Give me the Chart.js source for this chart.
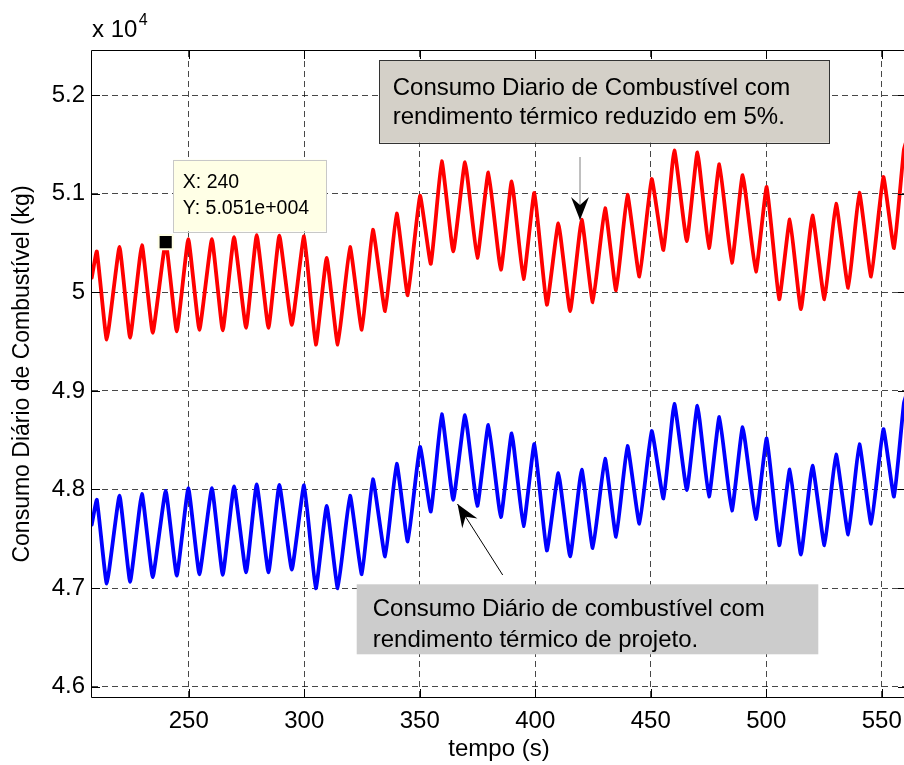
<!DOCTYPE html>
<html>
<head>
<meta charset="utf-8">
<script src="https://cdn.jsdelivr.net/npm/chart.js@4.4.0/dist/chart.umd.min.js"></script>
<style>
html,body{margin:0;padding:0;background:#fff;overflow:hidden;width:904px;height:765px}
#wrap{position:relative;width:910px;height:765px}
canvas{display:block}
</style>
</head>
<body>
<div id="wrap"><canvas id="c" width="910" height="765" style="width:910px;height:765px"></canvas></div>
<script>
// ---------- data ----------
const timeS = [
 208.0,210.2,214.5,220.0,224.6,229.7,234.4,240.0,244.8,249.8,254.6,260.0,264.7,269.6,274.8,279.4,284.5,289.2,294.6,299.9,
 305.0,309.7,314.5,319.8,324.9,329.7,335.0,340.0,344.8,350.1,354.8,359.5,364.5,369.6,374.9,379.7,385.1,389.8,394.9,399.6,
 405.0,410.0,415.1,420.1,424.9,430.2,435.0,439.9,445.1,450.4,455.5,460.2,465.6,470.2,475.2,479.7,485.1,489.8,495.5,500.2,
 505.6,510.2,515.0,520.0,525.2,530.2,535.5,540.3,545.4,550.7,555.3,559.6,561.5
];
// consumo diário (kg) - rendimento térmico reduzido em 5%
const consumoReduzido = [
 50150,50415,49520,50460,49540,50480,49590,50510,49605,50540,49620,50540,49615,50560,49640,50580,49640,50575,49670,50570,
 49470,50350,49470,50460,49620,50635,49810,50800,49970,50980,50290,51330,50415,51320,50350,51216,50230,51125,50136,51010,
 49875,50700,49810,50737,49900,50855,50020,50990,50160,51150,50430,51440,50520,51420,50450,51300,50300,51190,50210,51070,
 49930,50740,49830,50780,49930,50900,50045,51010,50160,51170,50450,51450,51600
];
// consumo diário (kg) - rendimento térmico de projeto
const consumoProjeto = [
 47643,47894,47044,47937,47063,47956,47111,47985,47125,48013,47139,48013,47134,48032,47158,48051,47158,48046,47187,48042,
 46997,47833,46997,47937,47139,48103,47320,48260,47472,48431,47776,48764,47894,48754,47833,48655,47719,48569,47629,48460,
 47381,48165,47320,48200,47405,48312,47519,48441,47652,48593,47909,48868,47994,48849,47928,48735,47785,48631,47700,48517,
 47434,48203,47339,48241,47434,48355,47543,48460,47652,48612,47928,48878,49020
];
const xTicks = [250,300,350,400,450,500,550];
const yTicks = [46000,47000,48000,49000,50000,51000,52000];
const xLimits = [208.1, 560.5];
const yLimits = [45894, 52449];
const dataTip = {x:240, y:50510};

// ---------- styling / layout ----------
const FONT = "'Liberation Sans', Arial, Helvetica, sans-serif";
const ANN = {
  red:  {box:[379.3,60,450,82.7], fill:'#d4d0c8', stroke:'#333333', textX:392.7, base:[95,124],
         lines:['Consumo Diario de Combustível com','rendimento térmico reduzido em 5%.'],
         arrow:{from:[580,157], to:[580,220], color:'#808080'}},
  blue: {box:[356.7,584.3,461.6,70], fill:'#cccccc', stroke:null, textX:372.7, base:[616,646.5],
         lines:['Consumo Diário de combustível com','rendimento térmico de projeto.'],
         arrow:{from:[502.7,575], to:[457.5,504], color:'#000000'}}
};

function drawArrowHead(ctx, from, to) {
  const ang = Math.atan2(to[1]-from[1], to[0]-from[0]);
  const L = 23, W = 9, N = 15;
  const c = Math.cos(ang), s = Math.sin(ang);
  const P = (a, b) => [to[0] - a*c - b*(-s), to[1] - a*s - b*c];
  const w1 = P(L, W), w2 = P(L, -W), n = P(N, 0);
  ctx.beginPath();
  ctx.moveTo(to[0], to[1]);
  ctx.lineTo(w1[0], w1[1]);
  ctx.lineTo(n[0], n[1]);
  ctx.lineTo(w2[0], w2[1]);
  ctx.closePath();
  ctx.fillStyle = '#000';
  ctx.fill();
}

const decor = {
  id: 'decor',
  afterDatasetsDraw(chart) {
    const ctx = chart.ctx;
    const a = chart.chartArea;
    const xs = chart.scales.x, ys = chart.scales.y;
    ctx.save();
    // axes box
    ctx.strokeStyle = '#000'; ctx.lineWidth = 1;
    ctx.beginPath();
    ctx.rect(Math.round(a.left)-0.5, Math.round(a.top)-0.5, Math.round(a.right-a.left)+1, Math.round(a.bottom-a.top)+1);
    ctx.stroke();
    // inward ticks
    ctx.beginPath();
    xTicks.forEach(v => {
      const p = Math.round(xs.getPixelForValue(v)) + 0.5;
      ctx.moveTo(p, a.bottom); ctx.lineTo(p, a.bottom - 8);
      ctx.moveTo(p, a.top); ctx.lineTo(p, a.top + 8);
    });
    yTicks.forEach(v => {
      const p = Math.round(ys.getPixelForValue(v)) + 0.5;
      ctx.moveTo(a.left, p); ctx.lineTo(a.left + 8, p);
      ctx.moveTo(a.right, p); ctx.lineTo(a.right - 8, p);
    });
    ctx.stroke();

    // exponent label
    ctx.fillStyle = '#000';
    ctx.textBaseline = 'alphabetic';
    ctx.textAlign = 'left';
    ctx.font = '24px ' + FONT;
    ctx.fillText('x 10', a.left, 36.7);
    const w = ctx.measureText('x 10').width;
    ctx.font = '16px ' + FONT;
    ctx.fillText('4', a.left + w + 1.5, 25);

    // annotation boxes
    for (const k of ['red','blue']) {
      const o = ANN[k];
      const [bx,by,bw,bh] = o.box;
      ctx.fillStyle = o.fill;
      ctx.fillRect(bx, by, bw, bh);
      if (o.stroke) { ctx.strokeStyle = o.stroke; ctx.lineWidth = 1; ctx.strokeRect(Math.round(bx)+0.5, Math.round(by)+0.5, Math.round(bw), Math.round(bh)); }
      ctx.fillStyle = '#000';
      ctx.font = '24px ' + FONT;
      o.lines.forEach((t,i) => ctx.fillText(t, o.textX, o.base[i]));
      // arrow
      const ar = o.arrow;
      ctx.strokeStyle = ar.color; ctx.lineWidth = 1;
      ctx.beginPath(); ctx.moveTo(ar.from[0], ar.from[1]); ctx.lineTo(ar.to[0], ar.to[1]); ctx.stroke();
      drawArrowHead(ctx, ar.from, ar.to);
    }

    // data tip box (anchored to the data tip point)
    const px = xs.getPixelForValue(dataTip.x), py = ys.getPixelForValue(dataTip.y);
    const tx = px + 7.7, ty = py - 82.4, tw = 153.4, th = 71.7;
    ctx.fillStyle = '#ffffe6';
    ctx.fillRect(tx, ty, tw, th);
    ctx.strokeStyle = '#c8c8c8'; ctx.lineWidth = 1;
    ctx.strokeRect(Math.round(tx)+0.5, Math.round(ty)+0.5, Math.round(tw), Math.round(th));
    ctx.fillStyle = '#000';
    ctx.font = '19.5px ' + FONT;
    ctx.fillText('X: ' + dataTip.x, tx + 9.4, ty + 28.3);
    ctx.fillText('Y: ' + (dataTip.y/1e4).toFixed(3) + 'e+004', tx + 9.4, ty + 54.3);
    ctx.restore();
  }
};

const ctx = document.getElementById('c').getContext('2d');
new Chart(ctx, {
  type: 'line',
  data: {
    datasets: [
      { label: 'reduzido', data: timeS.map((t,i)=>({x:t, y:consumoReduzido[i]})),
        borderColor:'#ff0000', borderWidth:3.8, pointRadius:0, tension:0.12, fill:false, clip:0, order:2,
        borderJoinStyle:'round', borderCapStyle:'round' },
      { label: 'projeto', data: timeS.map((t,i)=>({x:t, y:consumoProjeto[i]})),
        borderColor:'#0000ff', borderWidth:3.8, pointRadius:0, tension:0.12, fill:false, clip:0, order:2,
        borderJoinStyle:'round', borderCapStyle:'round' },
      { label: 'datatip', data: [dataTip], showLine:false, pointStyle:'rect', pointRadius:10,
        backgroundColor:'#000000', borderColor:'#ffffe6', borderWidth:2, order:1 }
    ]
  },
  options: {
    responsive: false, animation: false, devicePixelRatio: 1,
    layout: { autoPadding: false, padding: { top: 51, left: 0, right: 4, bottom: 0 } },
    plugins: { legend: { display: false }, tooltip: { enabled: false } },
    scales: {
      x: {
        type: 'linear', min: xLimits[0], max: xLimits[1],
        afterBuildTicks: s => { s.ticks = xTicks.map(v => ({value: v})); },
        afterFit: s => { s.height = 68; s.paddingLeft = 0; s.paddingRight = 0; },
        grid: { color: 'rgba(0,0,0,0.72)', lineWidth: 1, drawTicks: false },
        border: { display: false, dash: [6,4] },
        ticks: { font: { family: FONT, size: 24 }, color: '#000', padding: 10, maxRotation: 0, autoSkip: false },
        title: { display: true, text: 'tempo (s)', color: '#000', font: { family: FONT, size: 24 }, padding: { top: 0, bottom: 1 } }
      },
      y: {
        type: 'linear', min: yLimits[0], max: yLimits[1],
        afterBuildTicks: s => { s.ticks = yTicks.map(v => ({value: v})); },
        afterFit: s => { s.width = 92; s.paddingTop = 0; s.paddingBottom = 0; },
        grid: { color: 'rgba(0,0,0,0.72)', lineWidth: 1, drawTicks: false },
        border: { display: false, dash: [6,4] },
        ticks: { font: { family: FONT, size: 24 }, color: '#000', padding: 7,
                 callback: v => String(+(v/1e4).toFixed(1)) },
        title: { display: true, text: 'Consumo Diário de Combustível (kg)', color: '#000', font: { family: FONT, size: 23 }, padding: { top: 9, bottom: 0 } }
      }
    }
  },
  plugins: [decor]
});
</script>
</body>
</html>
